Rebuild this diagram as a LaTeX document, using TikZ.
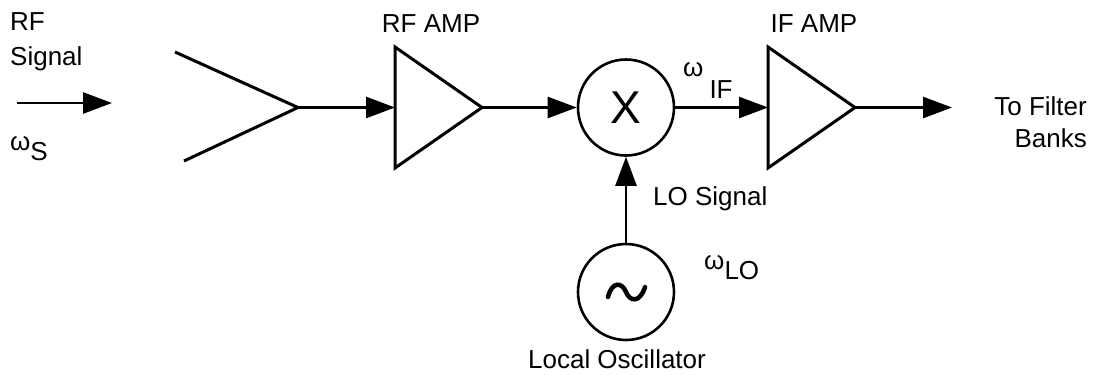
\documentclass[tikz,border=0pt]{standalone}
\usepackage{fontspec}
\setmainfont{Liberation Sans}
\usetikzlibrary{arrows.meta}
\begin{document}
\begin{tikzpicture}[x=1pt,y=-1pt,
  wire/.style={line width=2.6pt,-{Triangle[length=29pt,width=21pt]}},
  shapeline/.style={line width=3pt,line join=miter},
  lbl/.style={inner sep=0pt,font=\fontsize{26}{30}\selectfont},
  ring/.style={circle,draw,line width=2.6pt,minimum size=96pt,inner sep=0pt}]
\useasboundingbox (0,0) rectangle (1096,375);
% coordinates
\coordinate (inA) at (17,103);
\coordinate (inB) at (112,103);
\coordinate (antT) at (175,52);
\coordinate (antApex) at (298,107.5);
\coordinate (antB) at (184,161);
\coordinate (rfT) at (395,47);
\coordinate (rfB) at (395,168);
\coordinate (rfIn) at (395,107.5);
\coordinate (rfOut) at (482,107.5);
\coordinate (ifT) at (768,47);
\coordinate (ifB) at (768,168);
\coordinate (ifIn) at (768,107.5);
\coordinate (ifOut) at (855,107.5);
\coordinate (outEnd) at (952,107.5);
% shapes
\draw[shapeline] (antT) -- (antApex) -- (antB);
\draw[shapeline] (rfT) -- (rfOut) -- (rfB) -- cycle;
\draw[shapeline] (ifT) -- (ifOut) -- (ifB) -- cycle;
\node[ring,font=\fontsize{46}{50}\selectfont] (mix) at (626,107.5) {X};
\node[ring] (lo) at (626,292) {};
\draw[line width=4.5pt,line cap=round] ([xshift=-18pt,yshift=-5pt]lo.center) .. controls ([xshift=-14pt,yshift=11pt]lo.center) and ([xshift=-4pt,yshift=10pt]lo.center) .. (lo.center) .. controls ([xshift=4pt,yshift=-10pt]lo.center) and ([xshift=14pt,yshift=-11pt]lo.center) .. ([xshift=19pt,yshift=5pt]lo.center);
% connectors
\draw[wire] (inA) -- (inB);
\draw[wire] (antApex) -- (rfIn);
\draw[wire] (rfOut) -- (mix.west);
\draw[wire] (mix.east) -- (ifIn);
\draw[wire] (ifOut) -- (outEnd);
\draw[wire] (lo.north) -- (mix.south);
% labels
\node[lbl,anchor=base west] (rf1) at (10,30) {RF};
\node[lbl,anchor=base west] (rf2) at (10,65) {Signal};
\node[lbl,anchor=base west] (ws) at (10,150) {ω\raisebox{-10pt}{S}};
\node[lbl,anchor=base] (rfamp) at (431,32) {RF AMP};
\node[lbl,anchor=base] (ifamp) at (814,32) {IF AMP};
\node[lbl,anchor=base west] (wif) at (683,76) {ω\hspace{6pt}\raisebox{-22pt}{IF}};
\node[lbl,anchor=base east] (tf1) at (1087,115) {To Filter};
\node[lbl,anchor=base east] (tf2) at (1087,147) {Banks};
\node[lbl,anchor=base west] (losig) at (653,205) {LO Signal};
\node[lbl,anchor=base west] (wlo) at (704,269) {ω\raisebox{-10pt}{LO}};
\node[lbl,anchor=base] (locosc) at (617,368) {Local Oscillator};
\end{tikzpicture}
\end{document}
